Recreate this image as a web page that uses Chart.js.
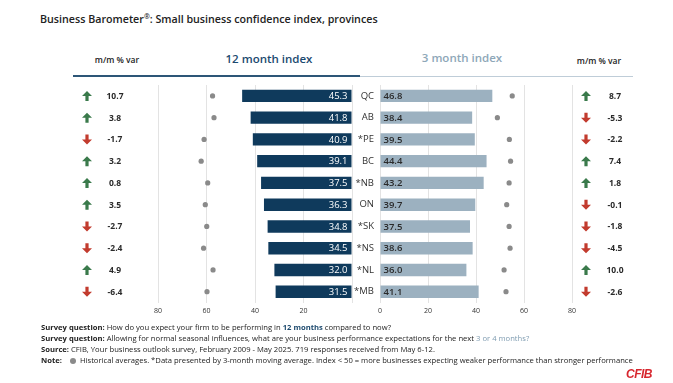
<!DOCTYPE html>
<html><head><meta charset="utf-8">
<script src="https://cdn.jsdelivr.net/npm/chart.js@4/dist/chart.umd.min.js"></script>
<style>
html,body{margin:0;padding:0;background:#fff;}
#wrap{position:relative;width:673px;height:383px;overflow:hidden;font-family:"Open Sans",sans-serif;color:#222;background:#fff;}
.abs{position:absolute;white-space:nowrap;}
.cv{position:absolute;left:0;top:0;width:673px;height:383px;}
.foot{font-size:7.65px;color:#222;left:41px;}
.foot b{font-weight:700;}
.dot{display:inline-block;width:6px;height:6px;border-radius:50%;background:#8a8a8a;vertical-align:-0.5px;margin:0 2px 0 8px;}
</style></head><body>
<div id="wrap">
<div class="abs" style="left:40px;top:12px;font-size:10.7px;font-weight:600;color:#222">Business Barometer<span style="font-size:7px;vertical-align:4px">®</span>: Small business confidence index, provinces</div>
<div class="abs" style="left:117px;top:54px;transform:translateX(-50%);font-size:8.5px;font-weight:600;color:#222">m/m % var</div>
<div class="abs" style="left:269px;top:51px;transform:translateX(-50%);font-size:11.5px;font-weight:600;color:#1b4a6f">12 month index</div>
<div class="abs" style="left:462px;top:50px;transform:translateX(-50%);font-size:11.5px;font-weight:600;color:#8ea7b8">3 month index</div>
<div class="abs" style="left:599px;top:55px;transform:translateX(-50%);font-size:8.5px;font-weight:600;color:#222">m/m % var</div>
<div class="abs" style="left:73px;top:75px;width:287px;height:2px;background:#2d5677"></div>
<div class="abs" style="left:360px;top:75.5px;width:273px;height:1.5px;background:#bfcdd8"></div>
<div class="cv"><canvas id="cL" width="673" height="383"></canvas></div>
<div class="cv"><canvas id="cR" width="673" height="383"></canvas></div>
<div class="abs foot" style="top:322px"><b>Survey question:</b> How do you expect your firm to be performing in <b style="color:#1d4a6e">12 months</b> compared to now?</div>
<div class="abs foot" style="top:333px"><b>Survey question:</b> Allowing for normal seasonal influences, what are your business performance expectations for the next <span style="color:#7f9cb1">3 or 4 months?</span></div>
<div class="abs foot" style="top:344px"><b>Source:</b> CFIB, Your business outlook survey, February 2009 - May 2025. 719 responses received from May 6-12.</div>
<div class="abs foot" style="top:355px"><b>Note:</b><span class="dot"></span> Historical averages. *Data presented by 3-month moving average. Index &lt; 50 = more businesses expecting weaker performance than stronger performance</div>
<div class="abs" style="left:626px;top:367px;font-size:12px;font-weight:800;font-style:italic;color:#d7262e;font-family:'Liberation Sans',Arial,sans-serif;letter-spacing:-0.5px">CFIB</div>
</div>
<script>
const provinces = ['QC','AB','*PE','BC','*NB','ON','*SK','*NS','*NL','*MB'];
const index12 = [45.3,41.8,40.9,39.1,37.5,36.3,34.8,34.5,32.0,31.5];
const hist12 = [57.5,56.9,61.0,62.2,59.5,60.5,59.9,61.2,57.3,59.8];
const mm12 = [10.7,3.8,-1.7,3.2,0.8,3.5,-2.7,-2.4,4.9,-6.4];
const index3 = [46.8,38.4,39.5,44.4,43.2,39.7,37.5,38.6,36.0,41.1];
const hist3 = [55.1,48.9,53.9,54.4,53.8,52.8,53.8,54.2,51.7,52.5];
const mm3 = [8.7,-5.3,-2.2,7.4,1.8,-0.1,-1.8,-4.5,10.0,-2.6];
const xTicks = [0,20,40,60,80];

const FONT = '"Open Sans", sans-serif';

function drawArrow(ctx, cx, cy, up){
  ctx.save();
  ctx.fillStyle = up ? '#3a7a4b' : '#c23b2e';
  ctx.beginPath();
  const s = up ? 1 : -1;
  ctx.moveTo(cx, cy - 5*s);
  ctx.lineTo(cx + 5, cy);
  ctx.lineTo(cx + 1.6, cy);
  ctx.lineTo(cx + 1.6, cy + 5*s);
  ctx.lineTo(cx - 1.6, cy + 5*s);
  ctx.lineTo(cx - 1.6, cy);
  ctx.lineTo(cx - 5, cy);
  ctx.closePath();
  ctx.fill();
  ctx.restore();
}

function rowPlugin(side, values, mm, arrowX, valX){
  return {id:'rows'+side, afterDatasetsDraw(chart){
    const ctx = chart.ctx;
    const meta = chart.getDatasetMeta(0);
    meta.data.forEach((bar, i) => {
      const y = bar.y;
      ctx.save();
      ctx.textBaseline = 'middle';
      if(side === 'L'){
        ctx.font = '9.5px ' + FONT;
        ctx.fillStyle = '#ffffff';
        ctx.textAlign = 'right';
        ctx.fillText(values[i].toFixed(1), bar.base - 4, y + 0.5);
      } else {
        ctx.font = '600 9.5px ' + FONT;
        ctx.fillStyle = '#2a2a2a';
        ctx.textAlign = 'left';
        ctx.fillText(values[i].toFixed(1), bar.base + 3, y + 0.5);
      }
      drawArrow(ctx, arrowX, y, mm[i] >= 0);
      ctx.font = '700 8.5px ' + FONT;
      ctx.fillStyle = '#2a2a2a';
      ctx.textAlign = 'center';
      ctx.fillText(mm[i].toFixed(1), valX, y + 0.5);
      ctx.restore();
    });
  }};
}

function xScale(reverse, hideZero){
  return {
    reverse: reverse, min: 0, max: 80,
    afterBuildTicks: (ax) => { ax.ticks = xTicks.map(v => ({value: v})); },
    ticks: {font: {size: 7, family: FONT}, color: '#333', padding: 4,
            callback: (v) => (hideZero && v === 0) ? '' : String(v)},
    grid: {color: '#e3e3e3', drawTicks: false, lineWidth: 1},
    border: {display: false}
  };
}

new Chart(document.getElementById('cL'), {
  type: 'bar',
  data: {labels: provinces, datasets: [
    {data: index12, backgroundColor: '#0f3a5c', barPercentage: 0.57, categoryPercentage: 1, order: 2},
    {type: 'line', indexAxis: 'y', data: hist12, showLine: false, pointRadius: 2.6,
     pointBackgroundColor: '#8a8a8a', pointBorderWidth: 0, order: 1}
  ]},
  options: {
    indexAxis: 'y', responsive: false, animation: false, events: [],
    layout: {padding: {left: 158, right: 321, top: 85, bottom: 64}},
    plugins: {legend: {display: false}, tooltip: {enabled: false}},
    scales: {x: xScale(true, true), y: {display: false}}
  },
  plugins: [rowPlugin('L', index12, mm12, 87, 115)]
});

new Chart(document.getElementById('cR'), {
  type: 'bar',
  data: {labels: provinces, datasets: [
    {data: index3, backgroundColor: '#9cb1c0', barPercentage: 0.57, categoryPercentage: 1, order: 2},
    {type: 'line', indexAxis: 'y', data: hist3, showLine: false, pointRadius: 2.6,
     pointBackgroundColor: '#8a8a8a', pointBorderWidth: 0, order: 1}
  ]},
  options: {
    indexAxis: 'y', responsive: false, animation: false, events: [],
    layout: {padding: {left: 350, right: 101, top: 85, bottom: 64}},
    plugins: {legend: {display: false}, tooltip: {enabled: false}},
    scales: {
      x: xScale(false, false),
      y: {afterFit: (ax) => { ax.width = 30; },
          ticks: {font: {size: 9.5, family: FONT}, color: '#333', padding: 6},
          grid: {display: false, drawTicks: false}, border: {display: false}}
    }
  },
  plugins: [rowPlugin('R', index3, mm3, 586, 615)]
});
</script>
</body></html>
